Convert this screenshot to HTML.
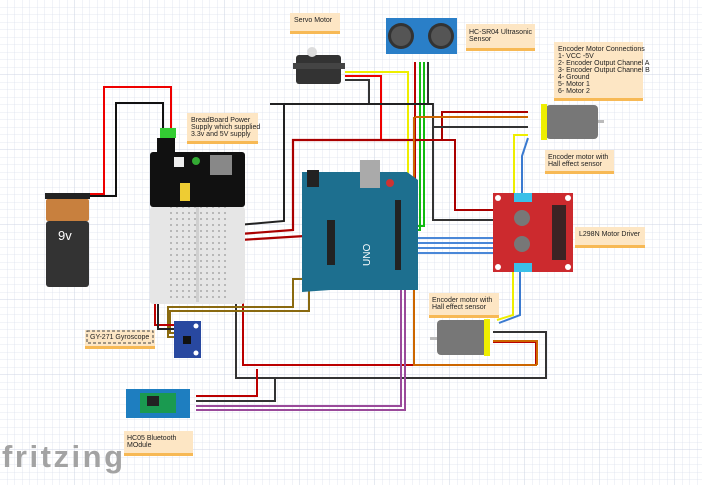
<!DOCTYPE html>
<html><head><style>
body{margin:0;width:702px;height:485px;overflow:hidden;background:#fff}
svg{display:block}
text{font-family:"Liberation Sans",sans-serif}
</style></head><body>
<svg width="702" height="485" viewBox="0 0 702 485" xmlns="http://www.w3.org/2000/svg">
<defs>
<pattern id="g" width="7.5" height="7.5" patternUnits="userSpaceOnUse"><path d="M7.5 0V7.5H0" fill="none" stroke="#dde2ee" stroke-width="0.8"/></pattern>
<pattern id="G" width="75" height="75" patternUnits="userSpaceOnUse"><rect width="75" height="75" fill="url(#g)"/><path d="M75 0V75H0" fill="none" stroke="#c8cfe0" stroke-width="0.8"/></pattern>
<pattern id="holes" width="6" height="6" patternUnits="userSpaceOnUse"><circle cx="3" cy="3" r="1" fill="#aaa"/></pattern>
</defs>
<rect width="702" height="485" fill="url(#G)"/>

<g fill="none" stroke-linejoin="miter">
<path d="M88 194H104V87H171V128" stroke="#e00" stroke-width="2"/>
<path d="M88 196H116V103H163V128" stroke="#111" stroke-width="2"/>
<path d="M238 225L284 221V104H360" stroke="#222" stroke-width="2"/>
<path d="M240 234L293 230V140H420V140" stroke="#a00" stroke-width="2.2"/>
<path d="M240 240L305 236" stroke="#a00" stroke-width="2.2"/>
<path d="M345 72H408V240" stroke="#ee0" stroke-width="2"/>
<path d="M345 76H381V140" stroke="#e00" stroke-width="2"/>
<path d="M345 80H369V104" stroke="#333" stroke-width="2"/>
<path d="M415 62V247H400" stroke="#b00" stroke-width="2"/>
<path d="M420 62V230H400" stroke="#1b1" stroke-width="2"/>
<path d="M424 62V226H400" stroke="#1b1" stroke-width="2"/>
<path d="M428 62V104H433V220H493" stroke="#333" stroke-width="2"/>
<path d="M270 104H433" stroke="#222" stroke-width="2"/>
<path d="M293 140H455V210H493" stroke="#a00" stroke-width="2"/>
<path d="M442 140V112H528" stroke="#a00" stroke-width="2"/>
<path d="M415 117H528" stroke="#c60" stroke-width="2"/>
<path d="M432 127H528" stroke="#333" stroke-width="2"/>
<path d="M414 117V268H400" stroke="#c60" stroke-width="2"/>
<path d="M528 135H514V195" stroke="#ee0" stroke-width="2"/>
<path d="M528 138L522 156V195" stroke="#3a7ad0" stroke-width="2"/>
<path d="M400 238H493M400 243H493M400 248H493M400 253H493" stroke="#4a88d8" stroke-width="2"/>
<path d="M497 320L513 315V268" stroke="#ee0" stroke-width="2"/>
<path d="M499 323L520 315V268" stroke="#3a7ad0" stroke-width="2"/>
<path d="M493 332H546V378H236V285" stroke="#333" stroke-width="2"/>
<path d="M493 342H536V365H243V285" stroke="#b00" stroke-width="2"/>
<path d="M493 341H537V365" stroke="#c60" stroke-width="2"/>
<path d="M400 264H414V365H537" stroke="#c60" stroke-width="2"/>
<path d="M306 279H293V307H168V337H178" stroke="#8a6a10" stroke-width="2"/>
<path d="M306 283H309V311H170V333H178" stroke="#8a6a10" stroke-width="2"/>
<path d="M155 289V325H178" stroke="#b00" stroke-width="2"/>
<path d="M158 289V329H178" stroke="#222" stroke-width="2"/>
<path d="M196 396H257V369" stroke="#b00" stroke-width="2"/>
<path d="M196 401H275V378" stroke="#333" stroke-width="2"/>
<path d="M196 406H401V279H394" stroke="#9a4a9a" stroke-width="2"/>
<path d="M196 410H405V284H394" stroke="#9a4a9a" stroke-width="2"/>
</g>

<rect x="45" y="193" width="45" height="6" fill="#222"/>
<rect x="46" y="199" width="43" height="22" rx="2" fill="#c8803e"/>
<rect x="46" y="221" width="43" height="66" rx="3" fill="#333"/>
<text x="58" y="240" fill="#fff" font-size="13">9v</text>

<rect x="160" y="128" width="16" height="10" fill="#3c3"/>
<rect x="157" y="138" width="18" height="30" fill="#111"/>
<rect x="150" y="152" width="95" height="55" rx="3" fill="#111"/>
<rect x="174" y="157" width="10" height="10" fill="#eee"/>
<circle cx="196" cy="161" r="4" fill="#3a3"/>
<rect x="210" y="155" width="22" height="20" fill="#888"/>
<rect x="180" y="183" width="10" height="18" fill="#ec3"/>
<rect x="150" y="207" width="95" height="97" rx="3" fill="#e6e6e6"/>
<rect x="168" y="207" width="60" height="93" fill="url(#holes)"/>
<rect x="196" y="207" width="3" height="95" fill="#d0d0d0"/>

<g font-size="7" fill="#222">
<rect x="290" y="13" width="50" height="20" fill="#fde6c4"/><rect x="290" y="31" width="50" height="3" fill="#f7b955"/>
<text x="294" y="22">Servo Motor</text>
<rect x="187" y="113" width="71" height="30" fill="#fde6c4"/><rect x="187" y="141" width="71" height="3" fill="#f7b955"/>
<text x="191" y="122">BreadBoard Power</text><text x="191" y="129">Supply which supplied</text><text x="191" y="136">3.3v and 5V supply</text>
<rect x="466" y="24" width="69" height="26" fill="#fde6c4"/><rect x="466" y="48" width="69" height="3" fill="#f7b955"/>
<text x="469" y="34">HC-SR04 Ultrasonic</text><text x="469" y="41">Sensor</text>
<rect x="554" y="42" width="89" height="58" fill="#fde6c4"/><rect x="554" y="98" width="89" height="3" fill="#f7b955"/>
<text x="558" y="51">Encoder Motor Connections</text><text x="558" y="58">1- VCC -5V</text><text x="558" y="65">2- Encoder Output Channel A</text><text x="558" y="72">3- Encoder Output Channel B</text><text x="558" y="79">4- Ground</text><text x="558" y="86">5- Motor 1</text><text x="558" y="93">6- Motor 2</text>
<rect x="545" y="150" width="69" height="23" fill="#fde6c4"/><rect x="545" y="171" width="69" height="3" fill="#f7b955"/>
<text x="548" y="159">Encoder motor with</text><text x="548" y="166">Hall effect sensor</text>
<rect x="575" y="227" width="70" height="19" fill="#fde6c4"/><rect x="575" y="245" width="70" height="3" fill="#f7b955"/>
<text x="579" y="236">L298N Motor Driver</text>
<rect x="429" y="293" width="70" height="23" fill="#fde6c4"/><rect x="429" y="315" width="70" height="3" fill="#f7b955"/>
<text x="432" y="302">Encoder motor with</text><text x="432" y="309">Hall effect sensor</text>
<rect x="85" y="330" width="70" height="16" fill="#fde6c4"/><rect x="85" y="346" width="70" height="3" fill="#f7b955"/>
<rect x="87" y="331" width="66" height="12" fill="none" stroke="#444" stroke-dasharray="3,2"/>
<text x="90" y="339">GY-271 Gyroscope</text>
<rect x="124" y="431" width="69" height="22" fill="#fde6c4"/><rect x="124" y="453" width="69" height="3" fill="#f7b955"/>
<text x="127" y="440">HC05 Bluetooth</text><text x="127" y="447">MOdule</text>
</g>

<rect x="296" y="55" width="45" height="29" rx="3" fill="#333"/>
<rect x="293" y="63" width="52" height="6" fill="#444"/>
<circle cx="312" cy="52" r="5" fill="#ddd"/>

<rect x="386" y="18" width="71" height="36" fill="#2a7fc8"/>
<circle cx="401" cy="36" r="13" fill="#333"/><circle cx="441" cy="36" r="13" fill="#333"/>
<circle cx="401" cy="36" r="10" fill="#555"/><circle cx="441" cy="36" r="10" fill="#555"/>

<path d="M302 172H407L418 180V290H330L302 292Z" fill="#1d6f8f"/>
<rect x="307" y="170" width="12" height="17" fill="#222"/>
<rect x="360" y="160" width="20" height="28" fill="#aaa"/>
<circle cx="390" cy="183" r="4" fill="#c33"/>
<rect x="395" y="200" width="6" height="70" fill="#222"/>
<rect x="327" y="220" width="8" height="45" fill="#222"/>
<text x="370" y="266" fill="#fff" font-size="10" transform="rotate(-90 370 266)">UNO</text>

<rect x="493" y="193" width="80" height="79" fill="#cc2a2e"/>
<rect x="514" y="193" width="18" height="9" fill="#3ac0e8"/>
<rect x="514" y="263" width="18" height="9" fill="#3ac0e8"/>
<circle cx="522" cy="218" r="8" fill="#777"/><circle cx="522" cy="244" r="8" fill="#777"/>
<rect x="552" y="205" width="14" height="55" fill="#222" opacity="0.85"/>
<circle cx="498" cy="198" r="3" fill="#fff"/><circle cx="568" cy="198" r="3" fill="#fff"/>
<circle cx="498" cy="267" r="3" fill="#fff"/><circle cx="568" cy="267" r="3" fill="#fff"/>

<rect x="546" y="105" width="52" height="34" rx="4" fill="#777"/>
<rect x="541" y="104" width="6" height="36" fill="#ee0"/>
<rect x="598" y="120" width="6" height="3" fill="#bbb"/>
<rect x="437" y="320" width="50" height="35" rx="4" fill="#777"/>
<rect x="484" y="319" width="6" height="37" fill="#ee0"/>
<rect x="430" y="337" width="7" height="3" fill="#bbb"/>

<rect x="174" y="321" width="27" height="37" fill="#2848a0"/>
<rect x="183" y="336" width="8" height="8" fill="#111"/>
<circle cx="196" cy="326" r="2.5" fill="#fff"/><circle cx="196" cy="353" r="2.5" fill="#fff"/>

<rect x="126" y="389" width="64" height="29" fill="#1e7ec0"/>
<rect x="140" y="393" width="36" height="20" fill="#1a9a50"/>
<rect x="147" y="396" width="12" height="10" fill="#222"/>

<text x="2" y="467" font-size="31" font-weight="bold" fill="#a3a3a3" font-family="Liberation Sans" letter-spacing="1" textLength="122">fritzing</text>
</svg>
</body></html>
